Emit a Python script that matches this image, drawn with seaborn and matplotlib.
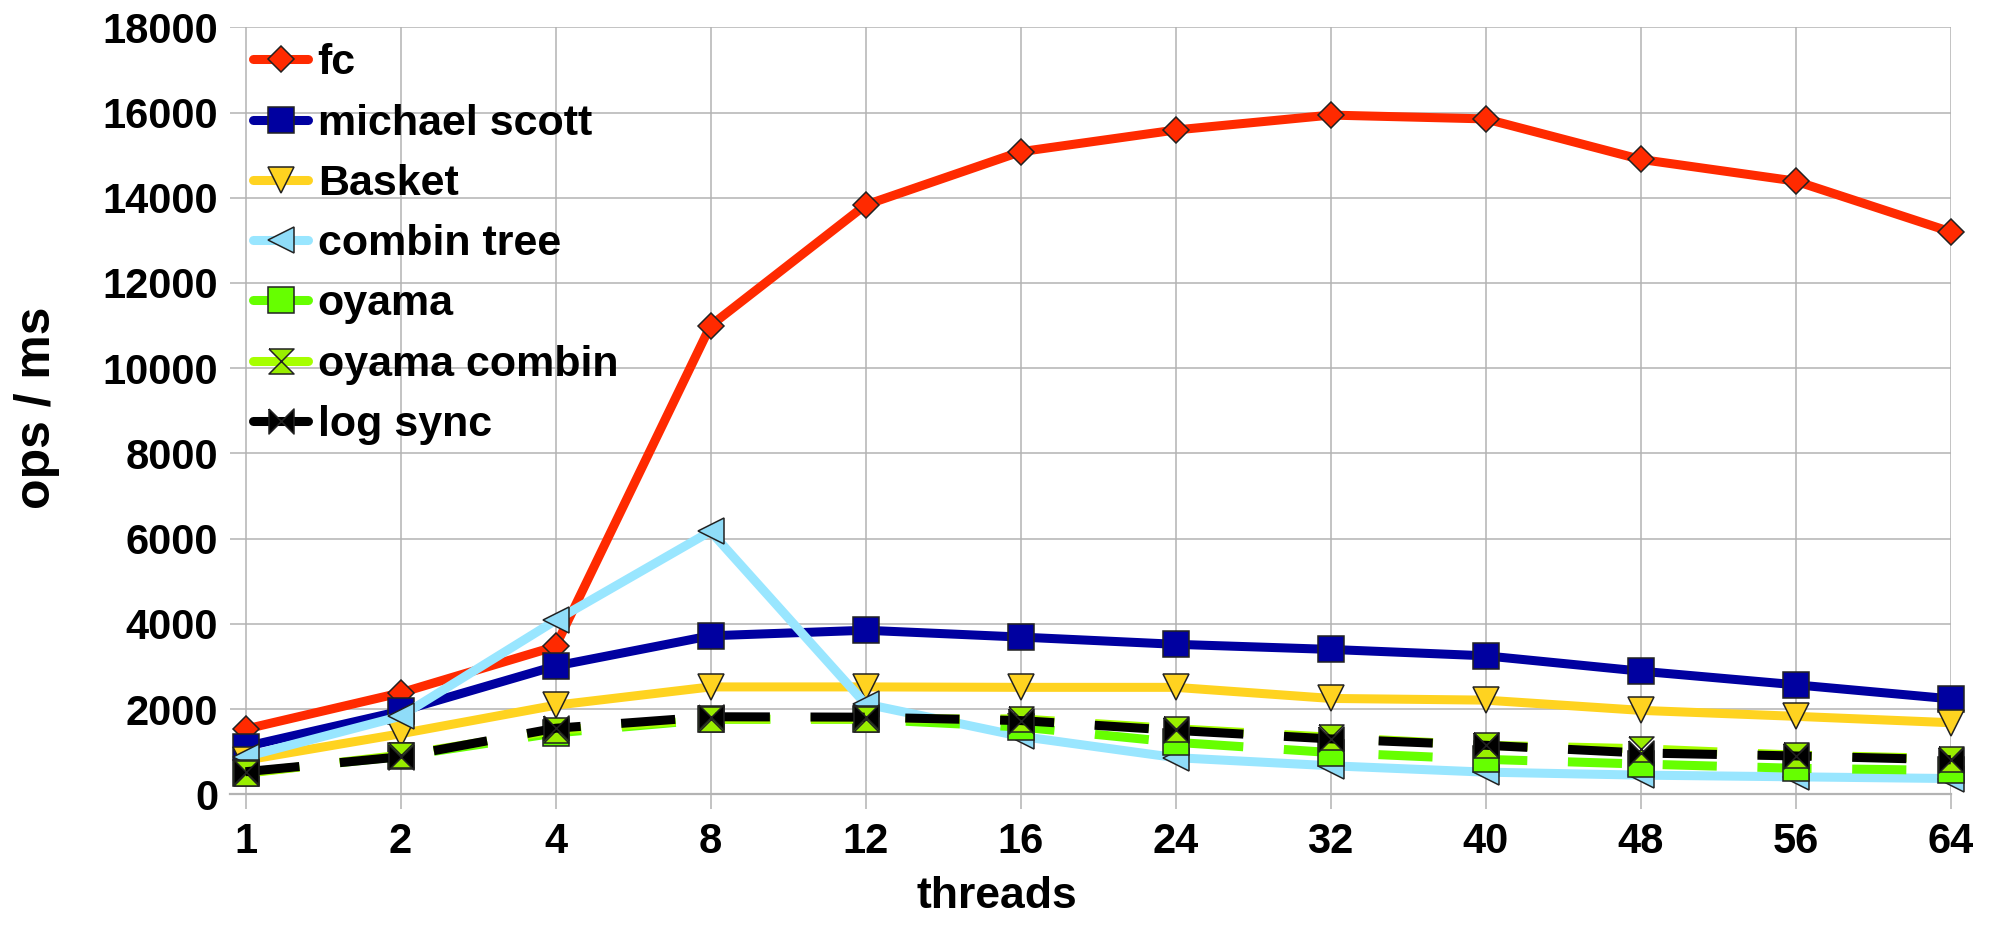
import matplotlib
matplotlib.use("Agg")
import matplotlib.pyplot as plt
import numpy as np
import pandas as pd
import seaborn as sns

# values
threads = ["1", "2", "4", "8", "12", "16", "24", "32", "40", "48", "56", "64"]
fc = [1530, 2380, 3470, 11000, 13830, 15080, 15590, 15940, 15850, 14900, 14390, 13200]
michael_scott = [1120, 1950, 3010, 3720, 3850, 3690, 3520, 3400, 3250, 2890, 2570, 2240]
basket = [800, 1420, 2090, 2520, 2520, 2510, 2510, 2250, 2210, 1970, 1830, 1680]
combin_tree = [880, 1830, 4080, 6170, 2120, 1360, 860, 670, 520, 450, 410, 370]
oyama = [510, 890, 1440, 1760, 1760, 1580, 1220, 980, 820, 710, 610, 560]
oyama_combin = [490, 920, 1500, 1770, 1770, 1770, 1540, 1340, 1150, 1070, 920, 840]
log_sync = [530, 880, 1550, 1820, 1810, 1730, 1500, 1300, 1150, 970, 900, 810]

series_names = ["fc", "michael scott", "Basket", "combin tree", "oyama", "oyama combin", "log sync"]
series_values = [fc, michael_scott, basket, combin_tree, oyama, oyama_combin, log_sync]

# custom marker shapes
hourglass = [(-1, 1), (1, 1), (-1, -1), (1, -1), (-1, 1)]
bowtie = [(-1, 1), (-1, -1), (1, 1), (1, -1), (-1, 1)]

dash = (0, (6, 4.5))
styles = {
    "fc": dict(color="#ff2a00", marker="D", ms=13.5, ls="-", mfc="#ff2a00"),
    "michael scott": dict(color="#0000a0", marker="s", ms=19, ls="-", mfc="#0000a0"),
    "Basket": dict(color="#ffd320", marker="v", ms=18.5, ls="-", mfc="#ffd320"),
    "combin tree": dict(color="#99e6ff", marker="<", ms=19, ls="-", mfc="#8fdcf8"),
    "oyama": dict(color="#66ff00", marker="s", ms=19, ls=dash, mfc="#66ff00"),
    "oyama combin": dict(color="#a6ff00", marker=hourglass, ms=18, ls=dash, mfc="#99ee00"),
    "log sync": dict(color="#000000", marker=bowtie, ms=18, ls=dash, mfc="#000000"),
}

sns.set_style("whitegrid")
plt.rcParams["font.family"] = ["Liberation Sans", "DejaVu Sans"]
plt.rcParams["font.weight"] = "bold"
plt.rcParams["text.color"] = "black"
plt.rcParams["axes.labelcolor"] = "black"
plt.rcParams["xtick.labelcolor"] = "black"
plt.rcParams["ytick.labelcolor"] = "black"

fig = plt.figure(figsize=(19.93, 9.40), dpi=100)
ax = fig.add_axes([230 / 1993, 1 - 794.3 / 940, 1720.7 / 1993, 767 / 940])

for name, vals in zip(series_names, series_values):
    st = styles[name]
    df = pd.DataFrame({"threads": threads, "ops": vals})
    sns.lineplot(data=df, x="threads", y="ops", ax=ax, sort=False, label=name,
                 color=st["color"], linewidth=6.5, linestyle=st["ls"],
                 marker=st["marker"], markersize=st["ms"],
                 markerfacecolor=st["mfc"], markeredgecolor="#222222",
                 markeredgewidth=1.1, clip_on=False, dash_capstyle="butt")

ax.set_xlim(-0.1, 11)
ax.set_ylim(0, 18000)
ax.set_yticks(np.arange(0, 18001, 2000))

for s in ["left", "right", "top"]:
    ax.spines[s].set_visible(False)
ax.spines["bottom"].set_color("#b3b3b3")
ax.spines["bottom"].set_linewidth(1.6)
ax.grid(True, color="#b3b3b3", linewidth=1.1)
ax.set_axisbelow(True)

ax.tick_params(axis="x", length=11, width=1.1, color="#b3b3b3", pad=9,
               labelsize=30, bottom=True, labelcolor="black")
ax.tick_params(axis="y", length=0, pad=8.5, labelsize=30, labelcolor="black")
for lab in ax.get_xticklabels() + ax.get_yticklabels():
    lab.set_fontweight("bold")

ax.set_xlabel("threads", fontsize=32, fontweight="bold", va="center", color="black")
ax.xaxis.set_label_coords(0.5, 1 - 896 / 940, transform=fig.transFigure)
ax.set_ylabel("ops / ms", fontsize=36, fontweight="bold", va="center", color="black")
ax.yaxis.set_label_coords(37 / 1993, 1 - 408 / 940, transform=fig.transFigure)

leg = ax.legend(loc="upper left", bbox_to_anchor=(0.0134, 0.979), frameon=False,
                fontsize=31, handlelength=1.28, handletextpad=0.22,
                labelspacing=0.47, borderpad=0, borderaxespad=0)
for line in leg.get_lines():
    line.set_linestyle("-")
for txt in leg.get_texts():
    txt.set_fontweight("bold")
    txt.set_color("black")

fig.savefig("out.png", dpi=100)
